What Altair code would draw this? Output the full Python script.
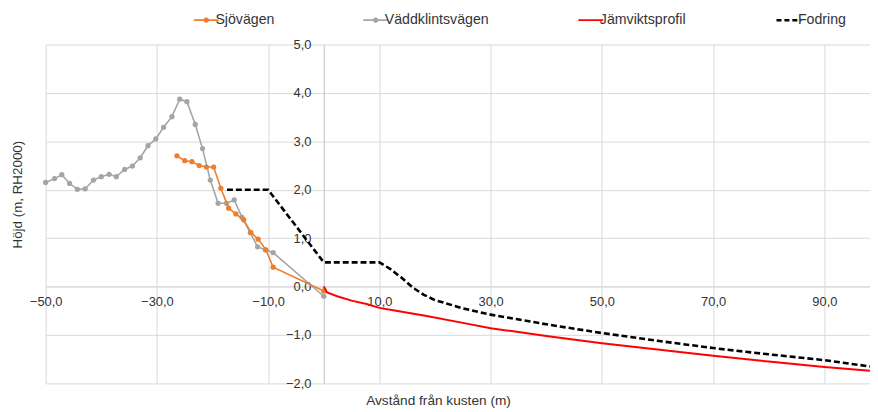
import altair as alt
import pandas as pd

# ---------------- data ----------------
series = ["Sjövägen", "Väddklintsvägen", "Jämviktsprofil", "Fodring"]
colors = ["#ED7D31", "#A5A5A5", "#FF0000", "#000000"]

sjo_x = [-26.4, -25.0, -23.7, -22.4, -21.1, -19.8, -18.5, -17.1, -15.8, -14.4,
         -13.1, -11.8, -10.4, -9.1, 0.0]
sjo_y = [2.70, 2.60, 2.58, 2.50, 2.47, 2.47, 2.03, 1.62, 1.50, 1.38,
         1.12, 0.98, 0.76, 0.40, -0.09]

vadd_x = [-50.0, -48.4, -47.1, -45.7, -44.3, -42.9, -41.4, -40.0, -38.6, -37.3,
          -35.8, -34.4, -33.0, -31.6, -30.2, -28.8, -27.3, -25.9, -24.6, -23.1,
          -21.8, -20.4, -19.0, -17.5, -16.1, -14.7, -13.2, -11.9, -10.5, -9.1, 0.0]
vadd_y = [2.15, 2.23, 2.31, 2.13, 2.01, 2.02, 2.20, 2.27, 2.32, 2.27,
          2.42, 2.49, 2.66, 2.91, 3.05, 3.29, 3.51, 3.87, 3.82, 3.35,
          2.85, 2.20, 1.72, 1.72, 1.79, 1.43, 1.11, 0.82, 0.76, 0.70, -0.20]

jamv_x = [0.0, 0.6, 2.4, 5.0, 7.7, 10.0, 13.0, 18.5, 25.0, 30.0, 40.0, 50.0,
          60.0, 70.0, 80.0, 90.0, 98.2]
jamv_y = [0.0, -0.12, -0.20, -0.29, -0.36, -0.44, -0.50, -0.61, -0.75, -0.86,
          -1.02, -1.17, -1.30, -1.43, -1.55, -1.66, -1.74]

fod_x = [-17.4, -10.0, 0.0, 10.0, 12.0, 14.0, 16.0, 18.0, 20.0, 25.0, 30.0,
         40.0, 50.0, 60.0, 70.0, 80.0, 90.0, 98.2]
fod_y = [2.0, 2.0, 0.5, 0.5, 0.36, 0.18, -0.02, -0.17, -0.28, -0.45, -0.58,
         -0.78, -0.96, -1.12, -1.27, -1.40, -1.52, -1.65]

x_ticks = [-50, -30, -10, 10, 30, 50, 70, 90]
y_ticks = [-2, -1, 0, 1, 2, 3, 4, 5]

rows = []
for name, xs, ys in [(series[0], sjo_x, sjo_y), (series[1], vadd_x, vadd_y),
                     (series[2], jamv_x, jamv_y), (series[3], fod_x, fod_y)]:
    for a, b in zip(xs, ys):
        rows.append({"serie": name, "x": a, "y": b})
df = pd.DataFrame(rows)

# ---------------- layout ----------------
W, H = 832, 342
XMIN, XMAX = -50, 98.2
YMIN, YMAX = -2, 5
x_zero_px = W * (0 - XMIN) / (XMAX - XMIN)
y_zero_px = H * (YMAX - 0) / (YMAX - YMIN)

FONT = "Liberation Sans"
TXT = "#333333"
GRID = "#d9d9d9"
fmt = "replace(format(datum.value, '.1f'), '.', ',')"

DOT = "M-1,0L1,0M-0.15,0A0.15,0.15 0 1,0 0.15,0A0.15,0.15 0 1,0 -0.15,0"
LINE = "M-1,0L1,0"
is_dotted = "(datum.value === 'Sjövägen' || datum.value === 'Väddklintsvägen')"

legend = alt.Legend(
    orient="none", legendX=155, legendY=-32, direction="horizontal", columns=4,
    title=None,
    symbolType={"expr": f"{is_dotted} ? '{DOT}' : '{LINE}'"},
    symbolDash={"expr": "datum.value === 'Fodring' ? [5, 3] : [1, 0]"},
    symbolStrokeWidth={"expr": "datum.value === 'Fodring' ? 2.5 : 1.7"},
    symbolSize=625, labelOffset=2, columnPadding=86, padding=0,
    labelFont=FONT, labelFontSize=14.3, labelColor=TXT,
)

x_enc = alt.X(
    "x:Q",
    scale=alt.Scale(domain=[XMIN, XMAX], nice=False, zero=False),
    axis=alt.Axis(
        values=x_ticks, labelExpr=fmt, offset=-(H - y_zero_px), ticks=False,
        labelPadding=9, labelFlush=False, labelFont=FONT, labelFontSize=13,
        labelColor=TXT, grid=True, gridColor=GRID, domainColor=GRID,
        title="Avstånd från kusten (m)", titleFont=FONT, titleFontSize=13.8,
        titleFontWeight="normal", titleColor=TXT, titleX=396, titleY=115,
        titleBaseline="middle", titleAlign="center",
    ),
)
y_enc = alt.Y(
    "y:Q",
    scale=alt.Scale(domain=[YMIN, YMAX], nice=False, zero=False),
    axis=alt.Axis(
        values=y_ticks, labelExpr=fmt, offset=-x_zero_px, ticks=False,
        labelPadding=13, labelFlush=False, labelFont=FONT, labelFontSize=13,
        labelColor=TXT, grid=True, gridColor=GRID, domainColor="#bfbfbf",
        title="Höjd (m, RH2000)", titleFont=FONT, titleFontSize=13.5,
        titleFontWeight="normal", titleColor=TXT, titleX=18 - 46 - x_zero_px,
        titleY=151, titleBaseline="middle", titleAlign="center", titleAngle=270,
    ),
)
color = alt.Color("serie:N", scale=alt.Scale(domain=series, range=colors), legend=legend)

base = alt.Chart(df).encode(x=x_enc, y=y_enc, color=color)

vadd = base.transform_filter(alt.datum.serie == series[1]).mark_line(
    strokeWidth=1.6, point=alt.OverlayMarkDef(filled=True, size=28, opacity=1))
sjo = base.transform_filter(alt.datum.serie == series[0]).mark_line(
    strokeWidth=1.6, point=alt.OverlayMarkDef(filled=True, size=28, opacity=1))
jamv = base.transform_filter(alt.datum.serie == series[2]).mark_line(strokeWidth=2)
fod = base.transform_filter(alt.datum.serie == series[3]).mark_line(
    strokeWidth=2.6, strokeDash=[6, 3])

chart = alt.layer(vadd, sjo, jamv, fod).properties(
    width=W, height=H,
    autosize=alt.AutoSizeParams(type="none"),
    padding={"left": 38, "top": 35, "right": 0, "bottom": 25},
    background="white",
).configure_view(stroke=None)

chart.save("out.html", embed_options={"renderer": "svg", "actions": False})
